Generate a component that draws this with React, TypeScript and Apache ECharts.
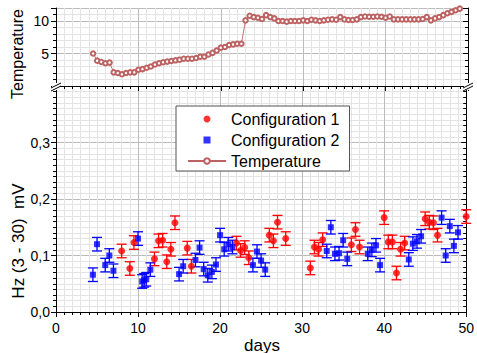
import React, { useEffect, useRef } from 'react';
import * as echarts from 'echarts';

const FONT = '"Liberation Sans", Arial, sans-serif';

// ---- data ----
const conf1Days = [8, 9, 9.5, 12, 12.5, 13, 13.5, 14, 14.5, 16, 16.5, 22, 22.5, 23, 23.5, 26, 26.5, 27, 28, 31, 31.5, 32, 32.5, 36, 36.5, 37, 40, 40.5, 41, 41.5, 42, 42.5, 45, 45.5, 46, 46.5, 50];
const conf1Values = [0.108, 0.077, 0.123, 0.094, 0.126, 0.127, 0.089, 0.111, 0.158, 0.113, 0.081, 0.122, 0.109, 0.114, 0.096, 0.136, 0.126, 0.159, 0.130, 0.078, 0.115, 0.111, 0.128, 0.119, 0.146, 0.115, 0.167, 0.124, 0.124, 0.069, 0.111, 0.122, 0.165, 0.159, 0.158, 0.136, 0.169];
const conf1Err = 0.012;

const conf2Days = [4.5, 5, 6, 6.5, 7, 10, 10.5, 10.75, 11, 11.5, 15, 15.5, 17, 17.5, 18, 18.5, 19, 19.5, 20, 20.5, 21, 21.5, 24, 24.5, 25, 25.5, 33, 33.5, 34, 34.5, 35, 35.5, 38, 38.5, 39, 39.5, 43, 43.5, 44, 44.5, 47, 47.5, 48, 48.5, 49];
const conf2Values = [0.066, 0.120, 0.083, 0.100, 0.073, 0.130, 0.054, 0.056, 0.058, 0.075, 0.067, 0.081, 0.092, 0.114, 0.076, 0.065, 0.071, 0.084, 0.136, 0.111, 0.120, 0.115, 0.083, 0.107, 0.091, 0.075, 0.108, 0.150, 0.103, 0.104, 0.127, 0.094, 0.103, 0.110, 0.118, 0.083, 0.093, 0.121, 0.125, 0.134, 0.167, 0.100, 0.152, 0.117, 0.141];
const conf2Err = 0.012;

const tempDays = [4.5, 5, 5.5, 6, 6.5, 7, 7.5, 8, 8.5, 9, 9.5, 10, 10.5, 11, 11.5, 12, 12.5, 13, 13.5, 14, 14.5, 15, 15.5, 16, 16.5, 17, 17.5, 18, 18.5, 19, 19.5, 20, 20.5, 21, 21.5, 22, 22.5, 23, 23.5, 24, 24.5, 25, 25.5, 26, 26.5, 27, 27.5, 28, 28.5, 29, 29.5, 30, 30.5, 31, 31.5, 32, 32.5, 33, 33.5, 34, 34.5, 35, 35.5, 36, 36.5, 37, 37.5, 38, 38.5, 39, 39.5, 40, 40.5, 41, 41.5, 42, 42.5, 43, 43.5, 44, 44.5, 45, 45.5, 46, 46.5, 47, 47.5, 48, 48.5, 49];
const tempValues = [5.0, 3.9, 3.7, 3.5, 3.6, 2.1, 2.0, 1.8, 2.0, 2.1, 2.1, 2.5, 2.6, 2.8, 3.0, 3.3, 3.5, 3.65, 3.75, 3.85, 3.95, 4.05, 4.2, 4.2, 4.2, 4.3, 4.5, 4.5, 4.85, 5.1, 5.45, 5.9, 6.0, 6.3, 6.4, 6.5, 6.5, 10.1, 10.8, 10.6, 10.5, 10.3, 10.9, 10.6, 10.4, 10.0, 10.0, 9.9, 10.0, 10.0, 10.0, 10.1, 10.0, 10.2, 10.1, 10.0, 10.1, 10.2, 10.25, 10.2, 10.6, 10.25, 10.15, 10.15, 10.25, 10.6, 10.7, 10.65, 10.65, 10.7, 10.65, 10.5, 10.7, 10.25, 10.25, 10.25, 10.25, 10.25, 10.25, 10.25, 10.3, 10.6, 10.1, 10.4, 10.6, 10.9, 11.2, 11.4, 11.65, 11.9];

const xTicks = { min: 0, max: 50, interval: 10 };
const hzTicks = { min: 0, max: 0.4, interval: 0.1 };
const tempTicks = { min: 0, max: 12, interval: 5 };

const RED = '#ff0000';
const BLUE = '#0000ff';
const TEMP = '#bd6262';
const MAJOR = '#bcbcbc';
const MINOR = '#e4e4e4';

function errorSeries(name: string, days: number[], vals: number[], err: number, color: string) {
  return {
    name,
    type: 'custom',
    xAxisIndex: 1,
    yAxisIndex: 2,
    z: 2,
    data: days.map((d, i) => [d, vals[i], err]),
    encode: { x: 0, y: 1 },
    renderItem: (params: any, api: any) => {
      const x = api.value(0);
      const y = api.value(1);
      const e = api.value(2);
      const top = api.coord([x, y + e]);
      const bot = api.coord([x, y - e]);
      const hw = 5;
      const st = { stroke: color, lineWidth: 1.3 };
      return {
        type: 'group',
        children: [
          { type: 'line', shape: { x1: top[0], y1: top[1], x2: bot[0], y2: bot[1] }, style: st },
          { type: 'line', shape: { x1: top[0] - hw, y1: top[1], x2: top[0] + hw, y2: top[1] }, style: st },
          { type: 'line', shape: { x1: bot[0] - hw, y1: bot[1], x2: bot[0] + hw, y2: bot[1] }, style: st },
        ],
      };
    },
  };
}

const axisLabelStyle = { color: '#000', fontSize: 14, fontFamily: FONT };

function buildOption() {
  return {
    animation: false,
    backgroundColor: '#fff',
    textStyle: { fontFamily: FONT },
    grid: [
      { left: 56, right: 9, top: 8, height: 78 },
      { left: 56, right: 9, top: 86, height: 226 },
    ],
    xAxis: [
      {
        type: 'value', gridIndex: 0, position: 'top', ...xTicks,
        axisLine: { show: true, lineStyle: { color: '#000', width: 1 } },
        axisTick: { show: true, inside: true, length: 5, lineStyle: { color: '#000' } },
        minorTick: { show: true, splitNumber: 10, length: 3, lineStyle: { color: '#000' } },
        axisLabel: { show: false },
        splitLine: { show: true, lineStyle: { color: MAJOR, width: 1 } },
        minorSplitLine: { show: true, lineStyle: { color: MINOR, width: 1 } },
      },
      {
        type: 'value', gridIndex: 1, position: 'bottom', ...xTicks,
        axisLine: { show: true, onZero: false, lineStyle: { color: '#000', width: 1 } },
        axisTick: { show: true, inside: false, length: 5, lineStyle: { color: '#000' } },
        minorTick: { show: true, splitNumber: 10, length: 3, lineStyle: { color: '#000' } },
        axisLabel: { show: true, margin: 9, ...axisLabelStyle },
        splitLine: { show: true, lineStyle: { color: MAJOR, width: 1 } },
        minorSplitLine: { show: true, lineStyle: { color: MINOR, width: 1 } },
      },
    ],
    yAxis: [
      {
        type: 'value', gridIndex: 0, position: 'left', ...tempTicks,
        axisLine: { show: true, onZero: false, lineStyle: { color: '#000', width: 1 } },
        axisTick: { show: true, inside: false, length: 5, lineStyle: { color: '#000' } },
        minorTick: { show: true, splitNumber: 5, length: 3, lineStyle: { color: '#000' } },
        axisLabel: { show: true, margin: 7, ...axisLabelStyle, formatter: (v: number) => (v === 0 ? '' : String(v)) },
        splitLine: { show: true, showMinLine: false, lineStyle: { color: MAJOR, width: 1 } },
        minorSplitLine: { show: true, lineStyle: { color: MINOR, width: 1 } },
      },
      {
        type: 'value', gridIndex: 0, position: 'right', ...tempTicks,
        axisLine: { show: true, onZero: false, lineStyle: { color: '#000', width: 1 } },
        axisTick: { show: true, inside: true, length: 5, lineStyle: { color: '#000' } },
        minorTick: { show: true, splitNumber: 5, length: 3, lineStyle: { color: '#000' } },
        axisLabel: { show: false },
        splitLine: { show: false },
      },
      {
        type: 'value', gridIndex: 1, position: 'left', ...hzTicks,
        axisLine: { show: true, onZero: false, lineStyle: { color: '#000', width: 1 } },
        axisTick: { show: true, inside: false, length: 5, lineStyle: { color: '#000' } },
        minorTick: { show: true, splitNumber: 10, length: 3, lineStyle: { color: '#000' } },
        axisLabel: {
          show: true, margin: 6, ...axisLabelStyle,
          formatter: (v: number) => (v > 0.35 ? '' : v.toFixed(1).replace('.', ',')),
        },
        splitLine: { show: true, showMaxLine: false, lineStyle: { color: MAJOR, width: 1 } },
        minorSplitLine: { show: true, lineStyle: { color: MINOR, width: 1 } },
      },
      {
        type: 'value', gridIndex: 1, position: 'right', ...hzTicks,
        axisLine: { show: true, onZero: false, lineStyle: { color: '#000', width: 1 } },
        axisTick: { show: true, inside: true, length: 5, lineStyle: { color: '#000' } },
        minorTick: { show: true, splitNumber: 10, length: 3, lineStyle: { color: '#000' } },
        axisLabel: { show: false },
        splitLine: { show: false },
      },
    ],
    legend: {
      left: 176, top: 106, orient: 'vertical',
      data: [
        { name: 'Configuration 1', icon: 'circle' },
        { name: 'Configuration 2', icon: 'path://M0,0L10,0L10,10L0,10Z' },
        { name: 'Temperature' },
      ],
      itemWidth: 38, itemHeight: 7, itemGap: 5,
      symbolKeepAspect: true,
      padding: [5, 10, 2, 11],
      borderColor: '#555', borderWidth: 1, borderRadius: 0,
      backgroundColor: '#fff',
      textStyle: { fontSize: 16, fontFamily: FONT, color: '#000' },
      selectedMode: false,
      z: 20,
    },
    series: [
      errorSeries('err1', conf1Days, conf1Values, conf1Err, RED),
      errorSeries('err2', conf2Days, conf2Values, conf2Err, BLUE),
      {
        name: 'Configuration 1', type: 'scatter', xAxisIndex: 1, yAxisIndex: 2, z: 3,
        symbol: 'circle', symbolSize: 7,
        itemStyle: { color: RED },
        data: conf1Days.map((d, i) => [d, conf1Values[i]]),
      },
      {
        name: 'Configuration 2', type: 'scatter', xAxisIndex: 1, yAxisIndex: 2, z: 3,
        symbol: 'rect', symbolSize: 6,
        itemStyle: { color: BLUE },
        data: conf2Days.map((d, i) => [d, conf2Values[i]]),
      },
      {
        name: 'Temperature', type: 'line', xAxisIndex: 0, yAxisIndex: 0, z: 3,
        symbol: 'emptyCircle', symbolSize: 4.5,
        lineStyle: { color: TEMP, width: 0.9 },
        itemStyle: { color: TEMP, borderWidth: 0.8 },
        data: tempDays.map((d, i) => [d, tempValues[i]]),
      },
    ],
    graphic: [
      { type: 'text', x: 17, y: 54, rotation: Math.PI / 2, z: 10,
        style: { text: 'Temperature', font: `16px ${FONT}`, fill: '#000', textAlign: 'center', textVerticalAlign: 'middle' } },
      { type: 'text', x: 18, y: 241, rotation: Math.PI / 2, z: 10,
        style: { text: 'Hz (3 - 30)  mV', font: `17px ${FONT}`, fill: '#000', textAlign: 'center', textVerticalAlign: 'middle' } },
      { type: 'text', x: 262, y: 345, z: 10,
        style: { text: 'days', font: `17px ${FONT}`, fill: '#000', textAlign: 'center', textVerticalAlign: 'middle' } },
      // axis break marks
      { type: 'rect', z: 50, shape: { x: 52, y: 83, width: 8, height: 7 }, style: { fill: '#fff' } },
      { type: 'line', z: 51, shape: { x1: 51, y1: 88, x2: 61, y2: 83 }, style: { stroke: '#000', lineWidth: 1 } },
      { type: 'line', z: 51, shape: { x1: 51, y1: 91, x2: 61, y2: 86 }, style: { stroke: '#000', lineWidth: 1 } },
      { type: 'rect', z: 50, shape: { x: 464, y: 83, width: 8, height: 7 }, style: { fill: '#fff' } },
      { type: 'line', z: 51, shape: { x1: 463, y1: 88, x2: 473, y2: 83 }, style: { stroke: '#000', lineWidth: 1 } },
      { type: 'line', z: 51, shape: { x1: 463, y1: 91, x2: 473, y2: 86 }, style: { stroke: '#000', lineWidth: 1 } },
    ],
  };
}

export default function App() {
  const ref = useRef<HTMLDivElement>(null);
  useEffect(() => {
    const chart = echarts.init(ref.current as HTMLDivElement, null, { renderer: 'svg' });
    chart.setOption(buildOption() as any);
    return () => chart.dispose();
  }, []);
  return (
    <div
      ref={ref}
      style={{ position: 'fixed', left: 0, top: 0, width: 477, height: 353, background: '#fff' }}
    />
  );
}
